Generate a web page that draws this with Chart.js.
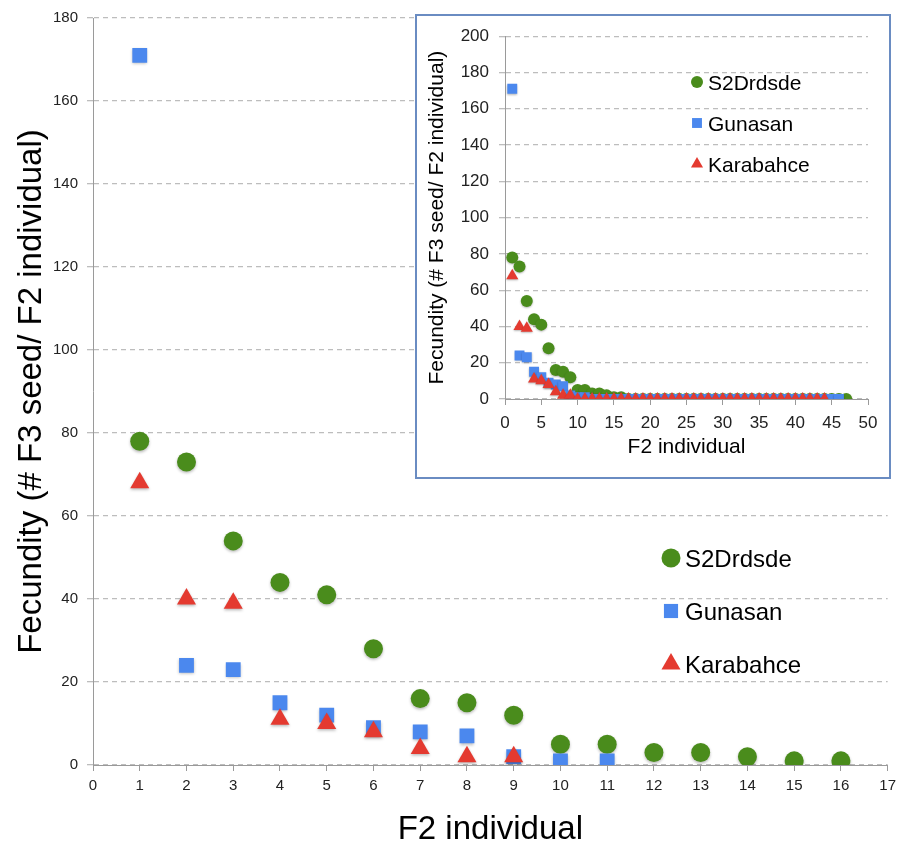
<!DOCTYPE html>
<html>
<head>
<meta charset="utf-8">
<script src="https://cdn.jsdelivr.net/npm/chart.js@4/dist/chart.umd.min.js"></script>
<style>
    body { margin: 0; background: #fff; }
    #wrap { position: relative; width: 902px; height: 850px; }
    #mainChart { position: absolute; left: 0; top: 0; }
    #insetBox {
        position: absolute; left: 415px; top: 14px;
        width: 472px; height: 461px;
        border: 2px solid #6a8cc2; background: #fff;
    }
</style>
</head>
<body>
<div id="wrap">
    <canvas id="mainChart" width="902" height="850"></canvas>
    <div id="insetBox"><canvas id="insetChart" width="472" height="461"></canvas></div>
</div>
<script>
// Fecundity per F2 individual (index 0 = individual 1)
// S2Drdsde: 47 individuals
const s2drdsde = [78, 73, 54, 44, 41, 28, 16, 15, 12, 5, 5, 3, 3, 2, 1, 1,
    0, 0, 0, 0, 0,  0, 0, 0, 0, 0,
    0, 0, 0, 0, 0,  0, 0, 0, 0, 0,
    0, 0, 0, 0, 0,  0, 0, 0, 0, 0,
    0];
// Gunasan: 46 individuals
const gunasan = [171, 24, 23, 15, 12, 9, 8, 7, 2, 1, 1,
    0, 0, 0, 0, 0,  0, 0, 0, 0, 0,
    0, 0, 0, 0, 0,  0, 0, 0, 0, 0,
    0, 0, 0, 0, 0,  0, 0, 0, 0, 0,
    0, 0, 0, 0, 0];
// Karabahce: 44 individuals
const karabahce = [68, 40, 39, 11, 10, 8, 4, 2, 2,
    0, 0, 0, 0, 0,  0, 0, 0, 0, 0,
    0, 0, 0, 0, 0,  0, 0, 0, 0, 0,
    0, 0, 0, 0, 0,  0, 0, 0, 0, 0,
    0, 0, 0, 0, 0];

const seriesNames = ['S2Drdsde', 'Gunasan', 'Karabahce'];
const seriesValues = [s2drdsde, gunasan, karabahce];
const seriesColors = ['#4a8c1c', '#4b88ee', '#e43a30'];
const seriesShapes = ['circle', 'rect', 'triangle'];

const mainXMax = 17;
const mainYMax = 180;
const insetXMax = 50;
const insetYMax = 200;

const FONT = '"Liberation Sans", Arial, Helvetica, sans-serif';

function toPoints(values, onlyPositive, xMax) {
    const pts = [];
    values.forEach((v, i) => {
        const x = i + 1;
        if (onlyPositive && v <= 0) return;
        if (x > xMax) return;
        pts.push({ x: x, y: v });
    });
    return pts;
}

function drawMarker(ctx, shape, x, y, r, color) {
    ctx.fillStyle = color;
    ctx.beginPath();
    if (shape === 'circle') {
        ctx.arc(x, y, r, 0, Math.PI * 2);
    } else if (shape === 'rect') {
        const s = r * Math.SQRT2 / 2;
        ctx.rect(x - s, y - s, s * 2, s * 2);
    } else {
        const h = r * 1.5;
        const w = r * Math.sqrt(3) / 2;
        ctx.moveTo(x, y - r);
        ctx.lineTo(x + w, y - r + h);
        ctx.lineTo(x - w, y - r + h);
        ctx.closePath();
    }
    ctx.fill();
}

// legend drawn inside the plot area
const boxLegend = {
    id: 'boxLegend',
    afterDraw(chart, args, opts) {
        const ctx = chart.ctx;
        ctx.save();
        chart.data.datasets.forEach((ds, i) => {
            const cy = opts.y + i * opts.gap;
            drawMarker(ctx, ds.pointStyle, opts.x, cy, opts.radius[i], ds.backgroundColor);
            ctx.font = opts.fontSize + 'px ' + FONT;
            ctx.fillStyle = '#000';
            ctx.textBaseline = 'middle';
            ctx.fillText(ds.label, opts.x + opts.textOffset, cy + 2);
        });
        ctx.restore();
    }
};

// soft drop shadow under the markers, like the original
const markerShadow = {
    id: 'markerShadow',
    beforeDatasetsDraw(chart, args, opts) {
        const ctx = chart.ctx;
        ctx.save();
        ctx.shadowColor = 'rgba(0, 0, 0, 0.28)';
        ctx.shadowBlur = opts.blur;
        ctx.shadowOffsetX = 0;
        ctx.shadowOffsetY = opts.offset;
    },
    afterDatasetsDraw(chart) {
        chart.ctx.restore();
    }
};

function buildDatasets(onlyPositive, xMax, radii) {
    return seriesNames.map((name, i) => ({
        label: name,
        data: toPoints(seriesValues[i], onlyPositive, xMax),
        pointStyle: seriesShapes[i],
        backgroundColor: seriesColors[i],
        borderColor: seriesColors[i],
        borderWidth: 0,
        pointRadius: radii[i],
        pointHoverRadius: radii[i],
        order: 3 - i
    }));
}

function axisOptions(cfg) {
    return {
        x: {
            type: 'linear',
            min: 0,
            max: cfg.xMax,
            afterFit: s => { s.height = cfg.xHeight; },
            ticks: {
                stepSize: cfg.xStep,
                color: '#222',
                padding: cfg.xTickPad,
                font: { family: FONT, size: cfg.tickSize }
            },
            grid: { drawOnChartArea: false, color: '#9a9a9a', tickLength: 6 },
            border: { color: '#9a9a9a', width: 1 },
            title: {
                display: true,
                text: 'F2 individual',
                color: '#000',
                font: { family: FONT, size: cfg.titleSize },
                padding: { top: 0, bottom: cfg.xTitlePad }
            }
        },
        y: {
            min: 0,
            max: cfg.yMax,
            afterFit: s => { s.width = cfg.yWidth; },
            ticks: {
                stepSize: 20,
                color: '#222',
                padding: cfg.yTickPad,
                font: { family: FONT, size: cfg.tickSize }
            },
            grid: {
                color: '#bdbdbd',
                tickLength: 6,
                lineWidth: 1.3
            },
            border: { color: '#9a9a9a', width: 1, dash: [5, 4] },
            title: {
                display: true,
                text: 'Fecundity (# F3 seed/ F2 individual)',
                color: '#000',
                font: { family: FONT, size: cfg.titleSize },
                padding: { top: cfg.yTitlePad, bottom: 0 }
            }
        }
    };
}

new Chart(document.getElementById('mainChart'), {
    type: 'scatter',
    data: { datasets: buildDatasets(true, mainXMax, [9.5, 10.5, 11]) },
    options: {
        responsive: false,
        animation: false,
        layout: { padding: { top: 18, right: 12, left: 0, bottom: 0 } },
        plugins: {
            legend: { display: false },
            tooltip: { enabled: false },
            markerShadow: { blur: 3, offset: 1.5 },
            boxLegend: { x: 671, y: 558, gap: 53, radius: [9.5, 10, 11], textOffset: 14, fontSize: 24 }
        },
        scales: axisOptions({
            xMax: mainXMax, yMax: mainYMax, xStep: 1,
            xHeight: 85, yWidth: 93,
            tickSize: 15, titleSize: 33,
            xTickPad: 6, yTickPad: 9,
            xTitlePad: 0, yTitlePad: 12
        })
    },
    plugins: [markerShadow, boxLegend]
});

new Chart(document.getElementById('insetChart'), {
    type: 'scatter',
    data: { datasets: buildDatasets(false, insetXMax, [6, 7, 7]) },
    options: {
        responsive: false,
        animation: false,
        layout: { padding: { top: 15, right: 21, left: 0, bottom: 0 } },
        plugins: {
            legend: { display: false },
            tooltip: { enabled: false },
            markerShadow: { blur: 2, offset: 1 },
            boxLegend: { x: 280, y: 66, gap: 41, radius: [6, 7, 7], textOffset: 11, fontSize: 21 }
        },
        scales: axisOptions({
            xMax: insetXMax, yMax: insetYMax, xStep: 5,
            xHeight: 78, yWidth: 88,
            tickSize: 17, titleSize: 21,
            xTickPad: 8, yTickPad: 10,
            xTitlePad: 17, yTitlePad: 8
        })
    },
    plugins: [markerShadow, boxLegend]
});
</script>
</body>
</html>
